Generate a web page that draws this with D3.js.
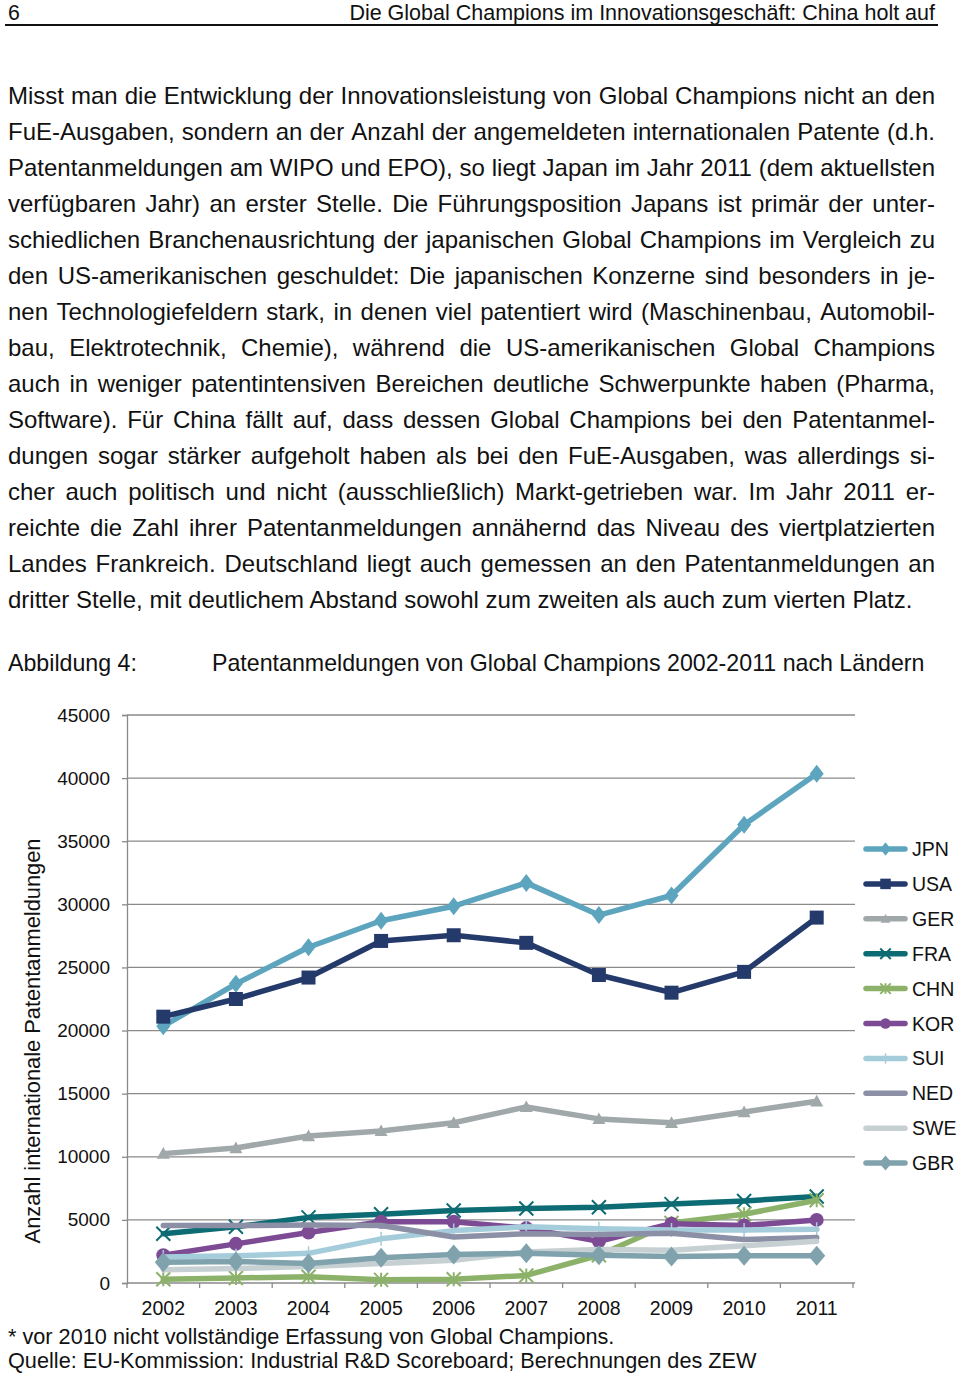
<!DOCTYPE html>
<html><head><meta charset="utf-8">
<script src="https://cdn.jsdelivr.net/npm/d3@7"></script>
<style>
html,body{margin:0;padding:0;background:#fff;}
svg{display:block;font-family:"Liberation Sans",Arial,Helvetica,sans-serif;}
</style></head>
<body>
<svg id="c" width="960" height="1375"></svg>
<script>
const years = ["2002","2003","2004","2005","2006","2007","2008","2009","2010","2011"];
const JPN = [20350,23700,26600,28700,29850,31700,29150,30700,36300,40350];
const USA = [21100,22500,24200,27100,27550,26950,24400,23000,24650,28950];
const GER = [10250,10700,11650,12050,12700,13950,13000,12700,13550,14400];
const FRA = [3900,4450,5200,5450,5750,5900,6000,6250,6500,6850];
const CHN = [300,400,500,250,300,600,2200,4750,5450,6550];
const KOR = [2200,3100,4000,4850,4850,4350,3300,4700,4550,5000];
const SUI = [2050,2150,2350,3500,4150,4450,4300,4200,4200,4250];
const NED = [4550,4550,4600,4550,3650,3900,3850,3950,3450,3600];
const SWE = [1050,1150,1300,1550,1800,2450,2650,2600,2950,3300];
const GBR = [1650,1700,1550,2000,2250,2350,2200,2100,2150,2150];
const yTicks = [0,5000,10000,15000,20000,25000,30000,35000,40000,45000];

const seriesNames = ["JPN","USA","GER","FRA","CHN","KOR","SUI","NED","SWE","GBR"];
const seriesValues = [JPN,USA,GER,FRA,CHN,KOR,SUI,NED,SWE,GBR];
const seriesColors = ["#5DA5BE","#243A6B","#A0A8AA","#0D6B73","#8CB26A","#7D4B94","#A5CCDB","#8C90A6","#C6D0D3","#7FA2AD"];
const seriesMarkers = ["diamond","square","triangle","x","star","circle","plus","none","none","diamond"];

const headerNum = "6";
const headerText = "Die Global Champions im Innovationsgeschäft: China holt auf";
const bodyLines = [
"Misst man die Entwicklung der Innovationsleistung von Global Champions nicht an den",
"FuE-Ausgaben, sondern an der Anzahl der angemeldeten internationalen Patente (d.h.",
"Patentanmeldungen am WIPO und EPO), so liegt Japan im Jahr 2011 (dem aktuellsten",
"verfügbaren Jahr) an erster Stelle. Die Führungsposition Japans ist primär der unter-",
"schiedlichen Branchenausrichtung der japanischen Global Champions im Vergleich zu",
"den US-amerikanischen geschuldet: Die japanischen Konzerne sind besonders in je-",
"nen Technologiefeldern stark, in denen viel patentiert wird (Maschinenbau, Automobil-",
"bau, Elektrotechnik, Chemie), während die US-amerikanischen Global Champions",
"auch in weniger patentintensiven Bereichen deutliche Schwerpunkte haben (Pharma,",
"Software). Für China fällt auf, dass dessen Global Champions bei den Patentanmel-",
"dungen sogar stärker aufgeholt haben als bei den FuE-Ausgaben, was allerdings si-",
"cher auch politisch und nicht (ausschließlich) Markt-getrieben war. Im Jahr 2011 er-",
"reichte die Zahl ihrer Patentanmeldungen annähernd das Niveau des viertplatzierten",
"Landes Frankreich. Deutschland liegt auch gemessen an den Patentanmeldungen an",
"dritter Stelle, mit deutlichem Abstand sowohl zum zweiten als auch zum vierten Platz."
];
const figLabel = "Abbildung 4:";
const figTitle = "Patentanmeldungen von Global Champions 2002-2011 nach Ländern";
const yTitle = "Anzahl internationale Patentanmeldungen";
const foot1 = "* vor 2010 nicht vollständige Erfassung von Global Champions.";
const foot2 = "Quelle: EU-Kommission: Industrial R&D Scoreboard; Berechnungen des ZEW";

const svg = d3.select("#c");
const ink = "#111";

// Header
svg.append("text").attr("x",8).attr("y",19.5).attr("font-size",21.3).attr("fill",ink).text(headerNum);
svg.append("text").attr("x",935).attr("y",19.5).attr("font-size",21.5).attr("fill",ink).attr("text-anchor","end").text(headerText);
svg.append("line").attr("x1",5).attr("x2",938).attr("y1",25).attr("y2",25).attr("stroke","#111").attr("stroke-width",2);

// Body text, justified
const left = 8, right = 935, fs = 24;
const measure = svg.append("text").attr("font-size",fs).attr("visibility","hidden");
function w(s){ measure.text(s); return measure.node().getComputedTextLength(); }
bodyLines.forEach((line,i)=>{
  const y = 104 + 36*i;
  const t = svg.append("text").attr("font-size",fs).attr("fill",ink).attr("y",y);
  if(i === bodyLines.length-1){ t.attr("x",left).text(line); return; }
  const words = line.split(" ");
  const widths = words.map(w);
  const total = d3.sum(widths);
  const gap = (right-left-total)/(words.length-1);
  let x = left;
  words.forEach((wd,k)=>{
    t.append("tspan").attr("x",x).text(wd + (k<words.length-1?" ":""));
    x += widths[k] + gap;
  });
});
measure.remove();

// Figure title
svg.append("text").attr("x",8).attr("y",671).attr("font-size",23.2).attr("fill",ink).text(figLabel);
svg.append("text").attr("x",212).attr("y",671).attr("font-size",23.2).attr("fill",ink).text(figTitle);

// Scales
const x = d3.scaleBand().domain(years).range([127,853]);
const cx = d => x(d) + x.bandwidth()/2;
const y = d3.scaleLinear().domain([0,45000]).range([1283,715]);

// Gridlines
svg.append("g").selectAll("line").data(yTicks.filter(t=>t>0)).join("line")
  .attr("x1",127).attr("x2",855).attr("y1",d=>y(d)).attr("y2",d=>y(d))
  .attr("stroke","#8a8a8a").attr("stroke-width",1.3);

// Y axis
const yAxis = svg.append("g").attr("transform","translate(127,0)")
  .call(d3.axisLeft(y).tickValues(yTicks).tickSize(5).tickPadding(12).tickFormat(d3.format("d")));
yAxis.selectAll("path,line").attr("stroke","#8a8a8a").attr("stroke-width",1.3);
yAxis.selectAll("text").attr("font-size",19).attr("fill",ink).attr("font-family","Liberation Sans, Arial, sans-serif");

// X axis
const xAxis = svg.append("g").attr("transform","translate(0,1283)")
  .call(d3.axisBottom(x).tickSize(0).tickPadding(18));
xAxis.select("path").attr("stroke","#8a8a8a").attr("stroke-width",1.3).attr("d","M127,0H855");
xAxis.selectAll("text").attr("font-size",19.5).attr("fill",ink).attr("font-family","Liberation Sans, Arial, sans-serif");
const bounds = years.map(d=>x(d)).concat([x.range()[1]]);
xAxis.selectAll(".bt").data(bounds).join("line").attr("class","bt")
  .attr("x1",d=>d).attr("x2",d=>d).attr("y1",0).attr("y2",5)
  .attr("stroke","#8a8a8a").attr("stroke-width",1.3);

// Y title
svg.append("text").attr("transform","translate(40,1041) rotate(-90)").attr("text-anchor","middle")
  .attr("font-size",21.8).attr("fill",ink).text(yTitle);

// Markers
function drawMarker(g, type, px, py, color, scale){
  const s = scale||1;
  if(type==="diamond"){
    const hw = (color==="#7FA2AD"?8.5:7)*s, hh=(color==="#7FA2AD"?10:9)*s;
    g.append("path").attr("d",`M${px},${py-hh}L${px+hw},${py}L${px},${py+hh}L${px-hw},${py}Z`).attr("fill",color);
  } else if(type==="square"){
    const h=7*s;
    g.append("rect").attr("x",px-h).attr("y",py-h).attr("width",2*h).attr("height",2*h).attr("fill",color);
  } else if(type==="triangle"){
    const h=6.5*s;
    g.append("path").attr("d",`M${px},${py-h}L${px+h},${py+h*0.8}L${px-h},${py+h*0.8}Z`).attr("fill",color);
  } else if(type==="circle"){
    g.append("circle").attr("cx",px).attr("cy",py).attr("r",7*s).attr("fill",color);
  } else if(type==="x" || type==="star"){
    const h=7*s;
    g.append("path").attr("d",`M${px-h},${py-h}L${px+h},${py+h}M${px-h},${py+h}L${px+h},${py-h}`+(type==="star"?`M${px},${py-h}L${px},${py+h}`:""))
      .attr("stroke",color).attr("stroke-width",2).attr("fill","none");
  } else if(type==="plus"){
    const h=7*s;
    g.append("path").attr("d",`M${px},${py-h}L${px},${py+h}M${px-h*0.4},${py}L${px+h*0.4},${py}`)
      .attr("stroke",color).attr("stroke-width",1.5).attr("fill","none");
  }
}

const line = d3.line().x((d,i)=>cx(years[i])).y(d=>y(d));
seriesNames.forEach((nm,si)=>{
  const g = svg.append("g").attr("class","series-"+nm);
  const col = seriesColors[si];
  g.append("path").datum(seriesValues[si]).attr("d",line).attr("fill","none")
    .attr("stroke",col).attr("stroke-width",5.5).attr("stroke-linejoin","round").attr("stroke-linecap","round");
  seriesValues[si].forEach((v,i)=>{
    drawMarker(g, seriesMarkers[si], cx(years[i]), y(v), col);
  });
});

// Legend
const lg = svg.append("g");
seriesNames.forEach((nm,si)=>{
  const ly = 849 + 34.9*si;
  lg.append("line").attr("x1",866).attr("x2",905).attr("y1",ly).attr("y2",ly)
    .attr("stroke",seriesColors[si]).attr("stroke-width",5.5).attr("stroke-linecap","round");
  drawMarker(lg, seriesMarkers[si], 885.5, ly, seriesColors[si], 0.75);
  lg.append("text").attr("x",912).attr("y",ly+7).attr("font-size",19.5).attr("fill",ink).text(nm);
});

// Footnotes
svg.append("text").attr("x",8).attr("y",1344).attr("font-size",21.7).attr("fill",ink).text(foot1);
svg.append("text").attr("x",8).attr("y",1368).attr("font-size",21.7).attr("fill",ink).text(foot2);
</script>
</body></html>
